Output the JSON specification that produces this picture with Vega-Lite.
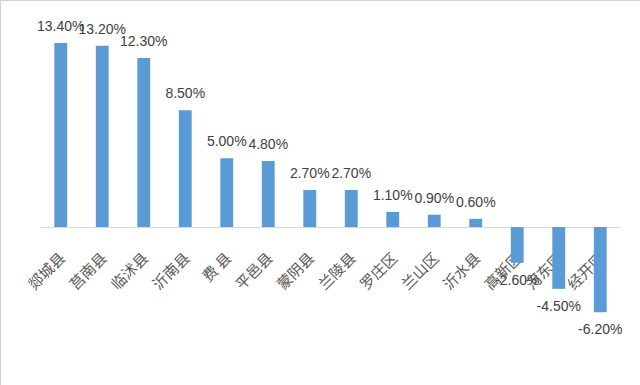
{
  "$schema": "https://vega.github.io/schema/vega-lite/v6.json",
  "width": 640,
  "height": 385,
  "autosize": {"type": "none"},
  "padding": 0,
  "background": "white",
  "config": {
    "view": {"stroke": "#d0d0d0", "strokeWidth": 1},
    "locale": {"number": {"decimal": ".", "thousands": ",", "grouping": [3], "currency": ["$", ""], "minus": "-"}}
  },
  "data": {
    "values": [
      {"area": "郯城县", "v": 0.134},
      {"area": "莒南县", "v": 0.132},
      {"area": "临沭县", "v": 0.123},
      {"area": "沂南县", "v": 0.085},
      {"area": "费 县", "v": 0.05},
      {"area": "平邑县", "v": 0.048},
      {"area": "蒙阴县", "v": 0.027},
      {"area": "兰陵县", "v": 0.027},
      {"area": "罗庄区", "v": 0.011},
      {"area": "兰山区", "v": 0.009},
      {"area": "沂水县", "v": 0.006},
      {"area": "高新区", "v": -0.026},
      {"area": "河东区", "v": -0.045},
      {"area": "经开区", "v": -0.062}
    ]
  },
  "encoding": {
    "x": {
      "field": "area",
      "type": "nominal",
      "sort": null,
      "scale": {"range": [40, 621], "paddingInner": 0.69, "paddingOuter": 0.345},
      "axis": {
        "title": null,
        "orient": "bottom",
        "offset": -158,
        "ticks": false,
        "domainColor": "#d9d9d9",
        "domainWidth": 1,
        "labelAngle": -45,
        "labelAlign": "right",
        "labelBaseline": "middle",
        "labelPadding": 28,
        "labelOffset": 2,
        "labelFont": "Noto Sans CJK SC",
        "labelFontSize": 15,
        "labelColor": "#595959"
      }
    },
    "y": {
      "field": "v",
      "type": "quantitative",
      "scale": {"domain": [-0.115, 0.1653], "nice": false},
      "axis": null
    }
  },
  "layer": [
    {"mark": {"type": "bar", "color": "#5b9bd5"}},
    {
      "transform": [{"filter": "datum.v >= 0"}],
      "mark": {"type": "text", "baseline": "alphabetic", "dy": -12, "font": "Liberation Sans", "fontSize": 14, "color": "#404040"},
      "encoding": {"text": {"field": "v", "type": "quantitative", "format": ".2%"}}
    },
    {
      "transform": [{"filter": "datum.v < 0"}],
      "mark": {"type": "text", "baseline": "top", "dy": 11, "font": "Liberation Sans", "fontSize": 14, "color": "#404040"},
      "encoding": {"text": {"field": "v", "type": "quantitative", "format": ".2%"}}
    }
  ]
}
